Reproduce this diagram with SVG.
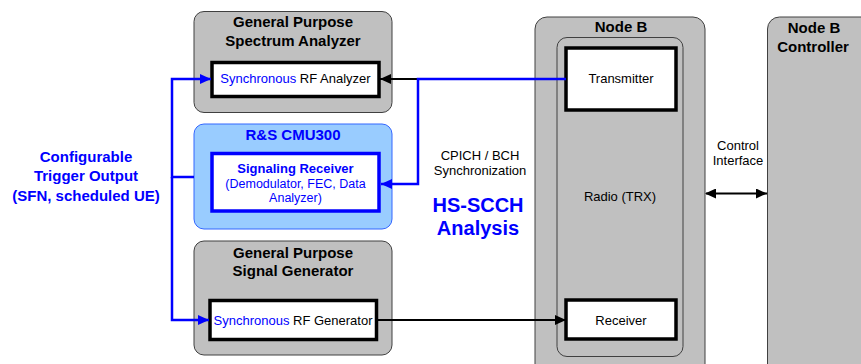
<svg xmlns="http://www.w3.org/2000/svg" width="861" height="364" viewBox="0 0 861 364">
<style>
text{font-family:"Liberation Sans",Arial,sans-serif;text-anchor:middle;}
.gray{fill:#c0c0c0;stroke:#404040;stroke-width:1;}
.inner{fill:#fff;stroke:#000;stroke-width:3.5;}
.innerb{fill:#fff;stroke:#0000ff;stroke-width:3.5;}
.t15b{font-size:15px;font-weight:bold;fill:#000;}
.t13{font-size:13px;fill:#000;}
.blue{fill:#0000ff;}
.bl{stroke:#0000ff;stroke-width:2.5;fill:none;}
.bk{stroke:#000;stroke-width:2;fill:none;}
</style>
<defs>
<marker id="ak" markerUnits="userSpaceOnUse" markerWidth="12" markerHeight="10" refX="11" refY="5" orient="auto"><path d="M0,0 L11,5 L0,10 Z" fill="#000"/></marker>
<marker id="ab" markerUnits="userSpaceOnUse" markerWidth="12" markerHeight="10" refX="11" refY="5" orient="auto"><path d="M0,0 L11,5 L0,10 Z" fill="#0000ff"/></marker>
<marker id="aks" markerUnits="userSpaceOnUse" markerWidth="12" markerHeight="10" refX="1" refY="5" orient="auto"><path d="M11,0 L0,5 L11,10 Z" fill="#000"/></marker>
</defs>

<g id="nodeb">
<rect class="gray" x="535" y="17" width="170" height="370" rx="12"/>
<text class="t15b" x="621" y="32">Node B</text>
<rect class="gray" x="557" y="37.5" width="126" height="319" rx="10"/>
<text class="t13" x="620" y="201">Radio (TRX)</text>
</g>
<g id="transmitter">
<rect class="inner" x="566" y="48" width="110" height="62"/>
<text class="t13" x="621" y="83">Transmitter</text>
</g>
<g id="receiver">
<rect class="inner" x="566" y="300" width="110" height="39"/>
<text class="t13" x="621" y="325">Receiver</text>
</g>
<g id="controller">
<rect class="gray" x="767.5" y="17" width="120" height="370" rx="12"/>
<text class="t15b" x="814" y="33">Node B</text>
<text class="t15b" x="813" y="51.5">Controller</text>
</g>

<g id="analyzer">
<rect class="gray" x="194" y="11.5" width="198" height="101" rx="10"/>
<text class="t15b" x="293" y="27">General Purpose</text>
<text class="t15b" x="293" y="45.5">Spectrum Analyzer</text>
<rect class="inner" x="212" y="62.5" width="167" height="34"/>
<text class="t13" x="295.5" y="83"><tspan class="blue">Synchronous</tspan> RF Analyzer</text>
</g>

<g id="cmu300">
<rect x="194" y="124" width="198" height="105" rx="10" fill="#99ccff" stroke="#3366ff" stroke-width="1"/>
<text class="t15b blue" x="293" y="140">R&amp;S CMU300</text>
<rect class="innerb" x="212" y="153.5" width="167" height="57.5"/>
<text x="295.5" y="173" font-size="13" font-weight="bold" class="blue">Signaling Receiver</text>
<text x="295.5" y="188" font-size="12.5" class="blue">(Demodulator, FEC, Data</text>
<text x="295.5" y="202" font-size="12.5" class="blue">Analyzer)</text>
</g>

<g id="generator">
<rect class="gray" x="194" y="241" width="198" height="114" rx="10"/>
<text class="t15b" x="293" y="258">General Purpose</text>
<text class="t15b" x="293" y="276">Signal Generator</text>
<rect class="inner" x="210" y="300.5" width="166.5" height="39"/>
<text class="t13" x="293" y="324.5"><tspan class="blue">Synchronous</tspan> RF Generator</text>
</g>

<g id="trigger-label">
<text class="t15b blue" x="86" y="162">Configurable</text>
<text class="t15b blue" x="86" y="181">Trigger Output</text>
<text class="t15b blue" x="86" y="200.5">(SFN, scheduled UE)</text>
</g>

<g id="labels">
<text class="t13" x="480" y="160">CPICH / BCH</text>
<text class="t13" x="480" y="174.5">Synchronization</text>
<text x="478" y="212" font-size="20" font-weight="bold" class="blue">HS-SCCH</text>
<text x="478" y="235" font-size="20" font-weight="bold" class="blue">Analysis</text>
<text class="t13" x="738" y="149.5">Control</text>
<text class="t13" x="738" y="165">Interface</text>
</g>

<g id="connectors">
<line class="bk" x1="566" y1="79" x2="380" y2="79" marker-end="url(#ak)"/>
<polyline class="bl" points="566,79 418,79 418,184 381,184" marker-end="url(#ab)"/>
<line class="bk" x1="376" y1="320" x2="566" y2="320" marker-end="url(#ak)"/>
<polyline class="bl" points="194,177 172,177 172,79 211,79" marker-end="url(#ab)"/>
<polyline class="bl" points="172,177 172,320 209,320" marker-end="url(#ab)"/>
<line class="bk" x1="706" y1="193.5" x2="767" y2="193.5" stroke-width="1.5" marker-start="url(#aks)" marker-end="url(#ak)"/>
</g>
</svg>
